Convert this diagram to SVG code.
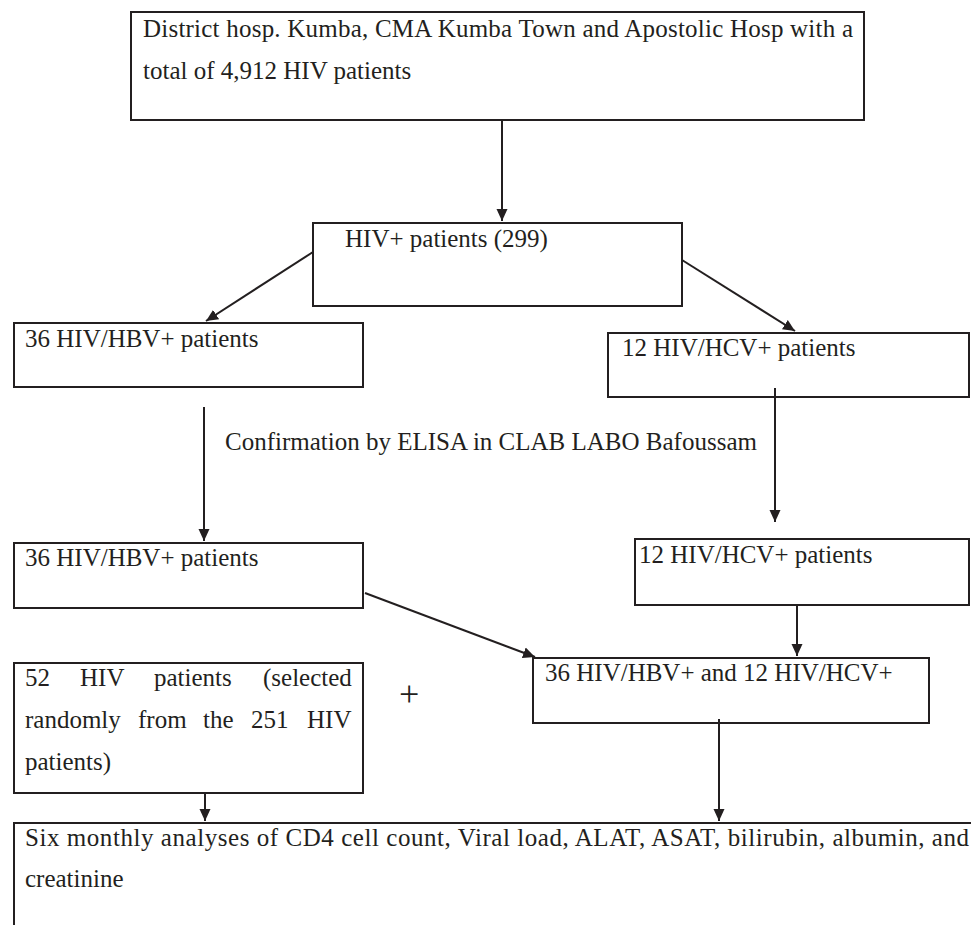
<svg xmlns="http://www.w3.org/2000/svg" width="971" height="925" viewBox="0 0 971 925">
  <style>
    .box { fill: #ffffff; stroke: #231f20; stroke-width: 2; }
    .t { font-family: "Liberation Serif", "Times New Roman", serif; font-size: 25px; fill: #231f20; }
    .plus { font-family: "Liberation Serif", "Times New Roman", serif; font-size: 36px; fill: #231f20; }
    .c { stroke: #231f20; stroke-width: 2; fill: none; marker-end: url(#arr); }
  </style>
  <defs>
    <marker id="arr" markerUnits="userSpaceOnUse" markerWidth="13" markerHeight="12" refX="12" refY="6" orient="auto">
      <path d="M0,0.5 L12,6 L0,11.5 z" fill="#231f20"/>
    </marker>
  </defs>
  <rect x="0" y="0" width="971" height="925" fill="#ffffff"/>

  <g id="n-top">
    <rect class="box" x="131" y="12" width="733" height="108"/>
    <text class="t" x="143" y="37" textLength="710" lengthAdjust="spacing">District hosp. Kumba, CMA Kumba Town and Apostolic Hosp with a</text>
    <text class="t" x="143" y="79">total of 4,912 HIV patients</text>
  </g>

  <g id="n-hivpos">
    <rect class="box" x="313" y="223" width="369" height="83"/>
    <text class="t" x="345" y="247">HIV+ patients (299)</text>
  </g>

  <g id="n-hbv1">
    <rect class="box" x="14" y="323" width="349" height="64"/>
    <text class="t" x="25" y="347">36 HIV/HBV+ patients</text>
  </g>

  <g id="n-hcv1">
    <rect class="box" x="608" y="333" width="361" height="64"/>
    <text class="t" x="622" y="356">12 HIV/HCV+ patients</text>
  </g>

  <g id="n-confirm">
    <text class="t" x="225" y="450">Confirmation by ELISA in CLAB LABO Bafoussam</text>
  </g>

  <g id="n-hbv2">
    <rect class="box" x="14" y="543" width="349" height="65"/>
    <text class="t" x="25" y="566">36 HIV/HBV+ patients</text>
  </g>

  <g id="n-hcv2">
    <rect class="box" x="635" y="539" width="334" height="66"/>
    <text class="t" x="639" y="563">12 HIV/HCV+ patients</text>
  </g>

  <g id="n-hiv52">
    <rect class="box" x="14" y="663" width="349" height="130"/>
    <text class="t" y="686"><tspan x="25">52</tspan><tspan x="80">HIV</tspan><tspan x="154">patients</tspan><tspan x="263">(selected</tspan></text>
    <text class="t" y="728"><tspan x="25">randomly</tspan><tspan x="138">from</tspan><tspan x="203">the</tspan><tspan x="251">251</tspan><tspan x="307">HIV</tspan></text>
    <text class="t" x="25" y="770">patients)</text>
  </g>

  <g id="n-plus">
    <text class="plus" x="399" y="706">+</text>
  </g>

  <g id="n-combined">
    <rect class="box" x="533" y="658" width="396" height="65"/>
    <text class="t" x="545" y="681">36 HIV/HBV+ and 12 HIV/HCV+</text>
  </g>

  <g id="n-bottom">
    <rect class="box" x="14" y="823" width="1000" height="200"/>
    <text class="t" x="25" y="846" textLength="944" lengthAdjust="spacing">Six monthly analyses of CD4 cell count, Viral load, ALAT, ASAT, bilirubin, albumin, and</text>
    <text class="t" x="25" y="887">creatinine</text>
  </g>

  <g id="connectors">
    <line class="c" x1="502" y1="121" x2="502" y2="221"/>
    <line class="c" x1="313" y1="252" x2="206" y2="321"/>
    <line class="c" x1="682" y1="260" x2="795" y2="331"/>
    <line class="c" x1="204" y1="407" x2="204" y2="541"/>
    <line class="c" x1="775" y1="388" x2="775" y2="522"/>
    <line class="c" x1="365" y1="593" x2="535" y2="657"/>
    <line class="c" x1="797" y1="605" x2="797" y2="656"/>
    <line class="c" x1="205" y1="794" x2="205" y2="821"/>
    <line class="c" x1="719" y1="719" x2="719" y2="821"/>
  </g>
</svg>
